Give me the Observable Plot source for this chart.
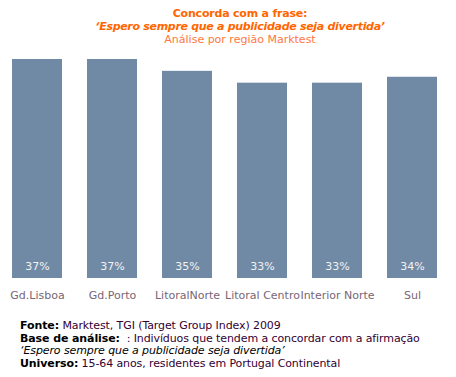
<!DOCTYPE html>
<html><head><meta charset="utf-8">
<script src="https://cdn.jsdelivr.net/npm/d3@7"></script>
<script src="https://cdn.jsdelivr.net/npm/@observablehq/plot@0.6"></script>
<style>
body{margin:0;background:#fff;font-family:"DejaVu Sans",Verdana,sans-serif;}
#head{width:456px;padding-left:24px;height:52px;text-align:center;font-size:11px;line-height:13px;padding-top:7px;box-sizing:border-box;}
#head .t{color:#ff6600;font-weight:bold;letter-spacing:-0.2px;}
#head .s{color:#ff6600;font-weight:bold;font-style:italic;letter-spacing:-0.3px;}
#head .a{color:#ff7744;}
#foot{padding-left:20px;font-size:11px;line-height:12.7px;color:#330033;margin-top:12px;letter-spacing:-0.1px;}
#foot b{color:#000;}
#foot i{color:#000;}
svg{display:block;}
</style></head>
<body>
<div id="head">
<div class="t">Concorda com a frase:</div>
<div class="s">‘Espero sempre que a publicidade seja divertida’</div>
<div class="a">Análise por região Marktest</div>
</div>
<div id="chart"></div>
<div id="foot">
<div><b>Fonte:</b> Marktest, TGI (Target Group Index) 2009</div>
<div><b>Base de análise:</b>&nbsp; : Indivíduos que tendem a concordar com a afirmação</div>
<div><i>‘Espero sempre que a publicidade seja divertida’</i></div>
<div><b>Universo:</b> 15-64 anos, residentes em Portugal Continental</div>
</div>
<script>
const regions = ["Gd.Lisboa","Gd.Porto","LitoralNorte","Litoral Centro","Interior Norte","Sul"];
const values = [37,37,35,33,33,34];
const data = regions.map((r,i)=>({region:r,value:values[i]}));
const chart = Plot.plot({
  width:456, height:256,
  marginLeft:12, marginRight:19, marginTop:7, marginBottom:30,
  style:{fontFamily:'"DejaVu Sans",Verdana,sans-serif',fontSize:"11px",background:"#fff"},
  x:{domain:regions, paddingInner:1/3, paddingOuter:0, label:null},
  y:{domain:[0,37], axis:null},
  marks:[
    Plot.barY(data,{x:"region",y:"value",fill:"#708aa6"}),
    Plot.text(data,{x:"region",y:0,text:d=>d.value+"%",dy:-12,fill:"#f2f2f2",fontSize:11}),
    Plot.axisX({tickSize:0,tickPadding:13,label:null,color:"#776677",fontSize:11})
  ]
});
document.getElementById("chart").appendChild(chart);
</script>
</body></html>
